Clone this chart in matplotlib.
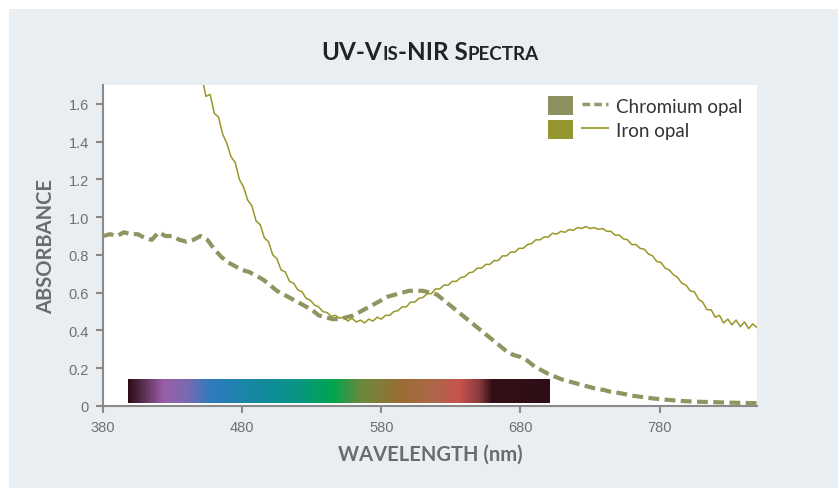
import numpy as np
import matplotlib
matplotlib.use("Agg")
import matplotlib.pyplot as plt
from matplotlib.colors import LinearSegmentedColormap, Normalize
from matplotlib.patches import Patch, Rectangle
from matplotlib.lines import Line2D
from matplotlib.legend_handler import HandlerTuple
from matplotlib.offsetbox import TextArea, HPacker, AnchoredOffsetbox

# chromium opal (dashed)
cr_wl = [380, 385, 390, 395, 400, 405, 410, 415, 420, 425, 430, 435, 440, 445, 450,
         455, 460, 465, 470, 475, 480, 485, 490, 495, 500, 505, 510, 515, 520, 525,
         530, 535, 540, 545, 550, 555, 560, 565, 570, 575, 580, 585, 590, 595, 600,
         605, 610, 615, 620, 625, 630, 635, 640, 645, 650, 655, 660, 665, 670, 675,
         680, 685, 690, 695, 700, 705, 710, 715, 720, 725, 730, 735, 740, 745, 750,
         755, 760, 765, 770, 775, 780, 785, 790, 795, 800, 810, 820, 830, 840, 850]
cr_abs = [0.90, 0.91, 0.90, 0.92, 0.91, 0.91, 0.89, 0.88, 0.92, 0.90, 0.90, 0.88, 0.87, 0.88, 0.90,
          0.88, 0.83, 0.79, 0.76, 0.74, 0.72, 0.71, 0.69, 0.67, 0.64, 0.61, 0.59, 0.57, 0.55, 0.53,
          0.51, 0.48, 0.47, 0.46, 0.46, 0.47, 0.48, 0.50, 0.52, 0.54, 0.56, 0.58, 0.59, 0.60, 0.61,
          0.61, 0.61, 0.60, 0.59, 0.56, 0.53, 0.50, 0.47, 0.44, 0.41, 0.38, 0.35, 0.32, 0.29, 0.27,
          0.26, 0.24, 0.21, 0.19, 0.17, 0.155, 0.14, 0.13, 0.12, 0.11, 0.10, 0.09, 0.085, 0.075, 0.07,
          0.063, 0.055, 0.05, 0.045, 0.04, 0.037, 0.033, 0.03, 0.027, 0.025, 0.022, 0.02, 0.018, 0.016, 0.015]

# iron opal (solid), sampled every 3 nm from 451 to 850
fe_wl = list(range(451, 851, 3))
fe_abs = [1.74, 1.64, 1.65, 1.55, 1.53, 1.44, 1.39, 1.32, 1.29, 1.20,
          1.16, 1.09, 1.06, 0.98, 0.96, 0.89, 0.87, 0.80, 0.78, 0.72,
          0.71, 0.66, 0.65, 0.615, 0.605, 0.57, 0.56, 0.535, 0.525, 0.50,
          0.495, 0.475, 0.48, 0.465, 0.47, 0.45, 0.465, 0.445, 0.455, 0.44,
          0.46, 0.45, 0.47, 0.46, 0.48, 0.48, 0.50, 0.505, 0.525, 0.525,
          0.55, 0.55, 0.57, 0.575, 0.595, 0.595, 0.62, 0.62, 0.64, 0.64,
          0.66, 0.66, 0.68, 0.685, 0.705, 0.71, 0.73, 0.73, 0.75, 0.75,
          0.77, 0.77, 0.795, 0.795, 0.815, 0.815, 0.835, 0.835, 0.855, 0.86,
          0.88, 0.88, 0.895, 0.895, 0.915, 0.91, 0.925, 0.92, 0.935, 0.93,
          0.945, 0.94, 0.95, 0.94, 0.945, 0.935, 0.94, 0.925, 0.925, 0.905,
          0.905, 0.885, 0.88, 0.855, 0.855, 0.835, 0.83, 0.805, 0.795, 0.765,
          0.76, 0.73, 0.72, 0.695, 0.68, 0.65, 0.64, 0.61, 0.605, 0.565,
          0.55, 0.51, 0.51, 0.47, 0.48, 0.44, 0.46, 0.43, 0.455, 0.42,
          0.445, 0.41, 0.435, 0.415]

# visible spectrum strip
spec_wl = [398, 423, 440, 457, 493, 517, 545, 565, 594, 620, 637, 651, 660, 701]
spec_col = ["#2e0f18", "#9a5ea8", "#7a6aae", "#2d7bbf", "#138a9e", "#0a9488", "#00a54f",
            "#6a8a3e", "#9a6e34", "#b0654a", "#c8524e", "#8a3a3e", "#321018", "#2e0e16"]

x_ticks = [380, 480, 580, 680, 780]
y_ticks = [0, 0.2, 0.4, 0.6, 0.8, 1.0, 1.2, 1.4, 1.6]
y_tick_labels = ["0", "0.2", "0.4", "0.6", "0.8", "1.0", "1.2", "1.4", "1.6"]

cr_color = "#8f9460"
fe_color = "#9a9628"
grey = "#8a8a8a"
label_grey = "#6b6b6b"

fig = plt.figure(figsize=(8.38, 4.89), dpi=100)
fig.patch.set_facecolor("white")
fig.add_artist(Rectangle((9 / 838, 0), 1, 1 - 10 / 489, transform=fig.transFigure,
                         facecolor="#e9eef2", edgecolor="none", zorder=-5))

ax = fig.add_axes([103 / 838, 1 - 407 / 489, 654 / 838, 321 / 489])
ax.set_facecolor("white")

# spectrum strip
stops = [(w - spec_wl[0]) / (spec_wl[-1] - spec_wl[0]) for w in spec_wl]
spec_cmap = LinearSegmentedColormap.from_list("vis", list(zip(stops, spec_col)))
grad = np.linspace(spec_wl[0], spec_wl[-1], 600).reshape(1, -1)
ax.imshow(grad, cmap=spec_cmap, norm=Normalize(spec_wl[0], spec_wl[-1]), aspect="auto",
          extent=[spec_wl[0], spec_wl[-1], 0.015, 0.137], zorder=1)

ax.plot(cr_wl, cr_abs, color=cr_color, lw=3, ls=(0, (2.6, 1.3)), zorder=3)
ax.plot(fe_wl, fe_abs, color=fe_color, lw=1.1, zorder=3)

ax.set_xlim(380, 850)
ax.set_ylim(0, 1.7)
ax.set_xticks(x_ticks)
ax.set_xticklabels([str(t) for t in x_ticks])
ax.set_yticks(y_ticks)
ax.set_yticklabels(y_tick_labels)

for s in ["top", "right"]:
    ax.spines[s].set_visible(False)
for s in ["left", "bottom"]:
    ax.spines[s].set_color(grey)
    ax.spines[s].set_linewidth(1.5)
ax.tick_params(direction="out", length=5, width=1.5, color=grey, labelcolor="#707070",
               labelsize=10.5, pad=5)
for lab in ax.get_xticklabels() + ax.get_yticklabels():
    lab.set_fontfamily("Liberation Sans")

ax.set_xlabel("WAVELENGTH (nm)", fontsize=14.5, fontweight="bold", color=label_grey,
              family="Lato", labelpad=7)
ax.set_ylabel("ABSORBANCE", fontsize=14.5, fontweight="bold", color=label_grey,
              family="Lato", labelpad=9)

# legend: colour square plus line sample
h_cr = (Patch(facecolor="#8f9060", edgecolor="none"),
        Line2D([], [], color="#959868", lw=2.5, ls=(0, (2.2, 1.2))))
h_fe = (Patch(facecolor="#96962e", edgecolor="none"),
        Line2D([], [], color="#a8a850", lw=1.6))
leg = ax.legend([h_cr, h_fe], ["Chromium opal", "Iron opal"],
                handler_map={tuple: HandlerTuple(ndivide=None, pad=0.5)},
                loc="upper left", bbox_to_anchor=(0.68, 0.965), frameon=False,
                borderpad=0, borderaxespad=0, handlelength=3.2, handleheight=1.2,
                handletextpad=0.45, labelspacing=0.22,
                prop={"family": "Lato", "size": 13.5})
for t in leg.get_texts():
    t.set_color("#333333")

# small-caps title
big, small = 17.5, 13.5
tprops = dict(family="Lato", fontweight="bold", color="#222222")
parts = [("UV-V", big), ("IS", small), ("-NIR S", big), ("PECTRA", small)]
boxes = [TextArea(txt, textprops=dict(size=sz, **tprops)) for txt, sz in parts]
pack = HPacker(children=boxes, align="baseline", pad=0, sep=0)
title = AnchoredOffsetbox(loc="center", child=pack, frameon=False,
                          bbox_to_anchor=(430 / 838, 1 - 52 / 489),
                          bbox_transform=fig.transFigure, borderpad=0, pad=0)
fig.add_artist(title)

fig.savefig("out.png", dpi=100)
